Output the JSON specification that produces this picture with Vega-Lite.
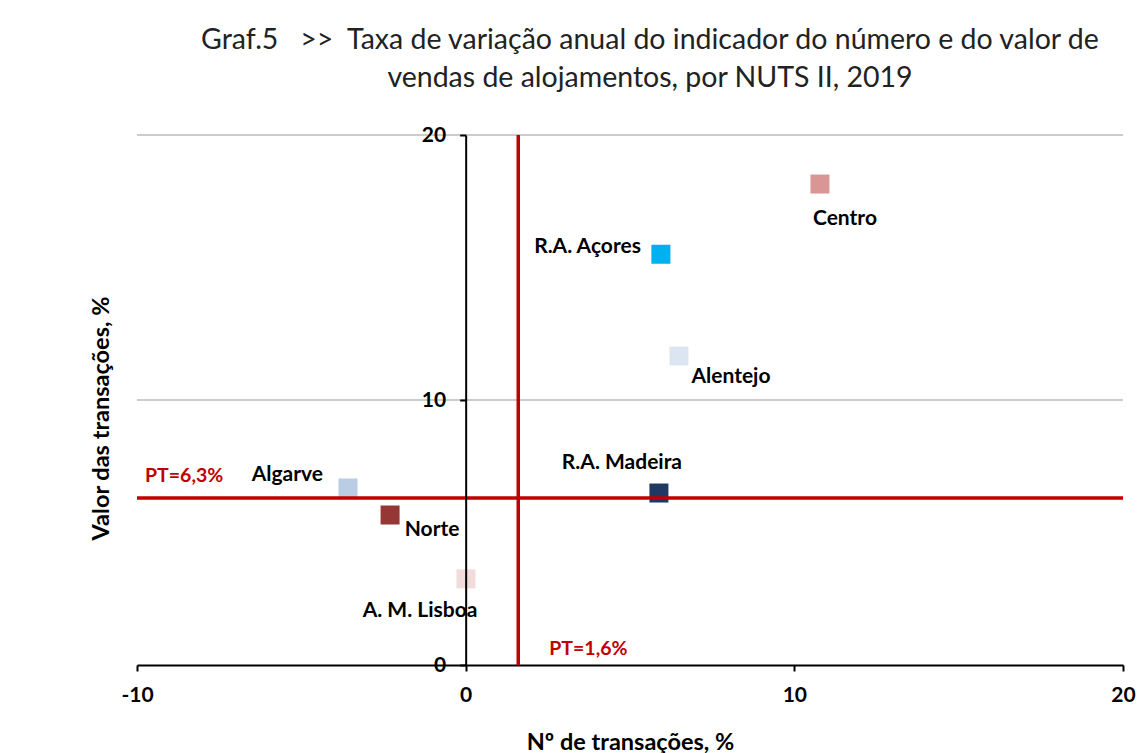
{
  "$schema": "https://vega.github.io/schema/vega-lite/v6.json",
  "autosize": "none",
  "width": 986,
  "height": 530,
  "padding": {"left": 137, "top": 135, "right": 14, "bottom": 88},
  "background": "white",
  "config": {"view": {"stroke": null}},
  "title": {
    "text": ["Graf.5\u00a0\u00a0\u00a0>>\u00a0\u00a0Taxa de variação anual do indicador do número e do valor de", "vendas de alojamentos, por NUTS II, 2019"],
    "font": "Lato",
    "fontSize": 28.5,
    "fontWeight": "normal",
    "color": "#222222",
    "lineHeight": 38,
    "anchor": "middle",
    "dx": 20,
    "offset": 32
  },
  "datasets": {
    "regions": [
      {"regiao": "Centro", "num": 10.78, "valor": 18.15},
      {"regiao": "R.A. Açores", "num": 5.94, "valor": 15.5},
      {"regiao": "Alentejo", "num": 6.49, "valor": 11.66},
      {"regiao": "R.A. Madeira", "num": 5.88, "valor": 6.49},
      {"regiao": "Algarve", "num": -3.58, "valor": 6.68},
      {"regiao": "Norte", "num": -2.3, "valor": 5.66},
      {"regiao": "A. M. Lisboa", "num": 0.01, "valor": 3.25}
    ],
    "grid": [{"g": 10}, {"g": 20}],
    "pt": [{"label": "PT=6,3%", "ptNum": 1.6, "ptValor": 6.3}]
  },
  "layer": [
    {
      "data": {"name": "grid"},
      "mark": {"type": "rule", "color": "#999999", "strokeWidth": 1},
      "encoding": {"y": {"field": "g", "type": "quantitative"}}
    },
    {
      "data": {"name": "regions"},
      "mark": {"type": "point", "shape": "square", "filled": true, "size": 361, "opacity": 1},
      "encoding": {
        "x": {"field": "num", "type": "quantitative", "scale": {"domain": [-10, 20], "nice": false, "zero": false},
          "axis": {"values": [-10, 0, 10, 20], "grid": false, "labelFlush": false, "labelExpr": "datum.value < 0 ? '-' + abs(datum.value) : '' + datum.value",
            "domainColor": "#000000", "domainWidth": 2, "tickColor": "#000000", "tickWidth": 2, "tickSize": 6,
            "labelFont": "Lato", "labelFontWeight": "bold", "labelFontSize": 21, "labelColor": "#000000", "labelPadding": 13,
            "title": "Nº de transações, %", "titleFont": "Lato", "titleFontWeight": "bold", "titleFontSize": 23.5, "titleColor": "#000000", "titlePadding": 25}},
        "y": {"field": "valor", "type": "quantitative", "scale": {"domain": [0, 20], "nice": false},
          "axis": {"offset": -328.67, "zindex": 2, "values": [0, 10, 20], "grid": false, "labelFlush": false, "domainColor": "#000000", "domainWidth": 2, "tickColor": "#000000", "tickWidth": 2, "tickSize": 6,
            "labelFont": "Lato", "labelFontWeight": "bold", "labelFontSize": 21, "labelColor": "#000000", "labelPadding": 14,
            "title": "Valor das transações, %", "titleFont": "Lato", "titleFontWeight": "bold", "titleFontSize": 23.5, "titleColor": "#000000", "titleX": -352, "titleY": 283}},
        "color": {"field": "regiao", "type": "nominal", "legend": null,
          "scale": {"domain": ["Centro", "R.A. Açores", "Alentejo", "R.A. Madeira", "Algarve", "Norte", "A. M. Lisboa"],
            "range": ["#D99694", "#00B0F0", "#DCE6F2", "#1F3864", "#B9CDE5", "#953735", "#F2DCDB"]}}
      }
    },
    {
      "data": {"name": "pt"},
      "mark": {"type": "rule", "color": "#C00000", "strokeWidth": 3.5},
      "encoding": {"y": {"field": "ptValor", "type": "quantitative"}}
    },
    {
      "data": {"name": "pt"},
      "mark": {"type": "rule", "color": "#C00000", "strokeWidth": 3.5},
      "encoding": {"x": {"field": "ptNum", "type": "quantitative"}}
    },
    {
      "data": {"name": "regions"},
      "transform": [{"filter": "datum.regiao == 'Centro'"}],
      "mark": {"type": "text", "font": "Lato", "fontWeight": "bold", "fontSize": 21, "color": "#000000", "align": "center", "baseline": "middle", "dx": 25, "dy": 35},
      "encoding": {"x": {"field": "num", "type": "quantitative"}, "y": {"field": "valor", "type": "quantitative"}, "text": {"field": "regiao"}}
    },
    {
      "data": {"name": "regions"},
      "transform": [{"filter": "datum.regiao == 'R.A. Açores'"}],
      "mark": {"type": "text", "font": "Lato", "fontWeight": "bold", "fontSize": 21, "color": "#000000", "align": "right", "baseline": "middle", "dx": -20, "dy": -7},
      "encoding": {"x": {"field": "num", "type": "quantitative"}, "y": {"field": "valor", "type": "quantitative"}, "text": {"field": "regiao"}}
    },
    {
      "data": {"name": "regions"},
      "transform": [{"filter": "datum.regiao == 'Alentejo'"}],
      "mark": {"type": "text", "font": "Lato", "fontWeight": "bold", "fontSize": 21, "color": "#000000", "align": "center", "baseline": "middle", "dx": 52, "dy": 21},
      "encoding": {"x": {"field": "num", "type": "quantitative"}, "y": {"field": "valor", "type": "quantitative"}, "text": {"field": "regiao"}}
    },
    {
      "data": {"name": "regions"},
      "transform": [{"filter": "datum.regiao == 'R.A. Madeira'"}],
      "mark": {"type": "text", "font": "Lato", "fontWeight": "bold", "fontSize": 21, "color": "#000000", "align": "center", "baseline": "middle", "dx": -37, "dy": -30},
      "encoding": {"x": {"field": "num", "type": "quantitative"}, "y": {"field": "valor", "type": "quantitative"}, "text": {"field": "regiao"}}
    },
    {
      "data": {"name": "regions"},
      "transform": [{"filter": "datum.regiao == 'Algarve'"}],
      "mark": {"type": "text", "font": "Lato", "fontWeight": "bold", "fontSize": 21, "color": "#000000", "align": "right", "baseline": "middle", "dx": -25, "dy": -13},
      "encoding": {"x": {"field": "num", "type": "quantitative"}, "y": {"field": "valor", "type": "quantitative"}, "text": {"field": "regiao"}}
    },
    {
      "data": {"name": "regions"},
      "transform": [{"filter": "datum.regiao == 'Norte'"}],
      "mark": {"type": "text", "font": "Lato", "fontWeight": "bold", "fontSize": 21, "color": "#000000", "align": "center", "baseline": "middle", "dx": 42, "dy": 15},
      "encoding": {"x": {"field": "num", "type": "quantitative"}, "y": {"field": "valor", "type": "quantitative"}, "text": {"field": "regiao"}}
    },
    {
      "data": {"name": "regions"},
      "transform": [{"filter": "datum.regiao == 'A. M. Lisboa'"}],
      "mark": {"type": "text", "font": "Lato", "fontWeight": "bold", "fontSize": 21, "color": "#000000", "align": "center", "baseline": "middle", "dx": -46, "dy": 32},
      "encoding": {"x": {"field": "num", "type": "quantitative"}, "y": {"field": "valor", "type": "quantitative"}, "text": {"field": "regiao"}}
    },
    {
      "data": {"values": [{"label": "PT=6,3%", "xv": -10, "yv": 6.3}]},
      "mark": {"type": "text", "font": "Lato", "fontWeight": "bold", "fontSize": 19.5, "color": "#C00000", "align": "left", "baseline": "middle", "dx": 8, "dy": -22},
      "encoding": {"x": {"field": "xv", "type": "quantitative"}, "y": {"field": "yv", "type": "quantitative"}, "text": {"field": "label"}}
    },
    {
      "data": {"values": [{"label": "PT=1,6%", "xv": 1.6, "yv": 0}]},
      "mark": {"type": "text", "font": "Lato", "fontWeight": "bold", "fontSize": 19.5, "color": "#C00000", "align": "left", "baseline": "middle", "dx": 31, "dy": -16},
      "encoding": {"x": {"field": "xv", "type": "quantitative"}, "y": {"field": "yv", "type": "quantitative"}, "text": {"field": "label"}}
    }
  ]
}
